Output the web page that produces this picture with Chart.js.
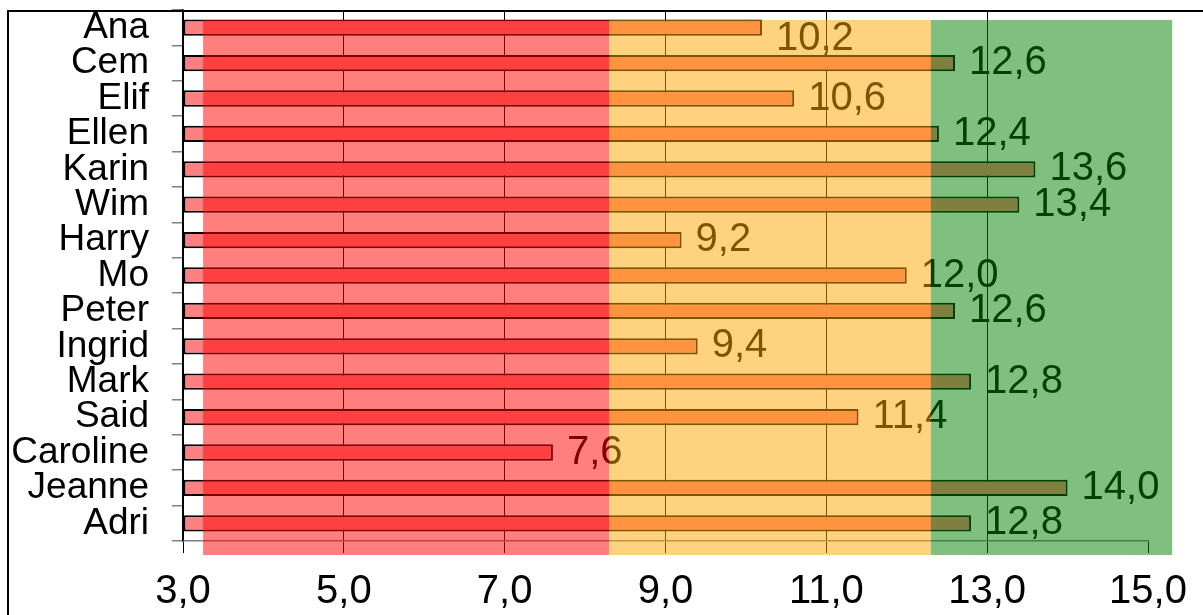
<!DOCTYPE html>
<html>
<head>
<meta charset="utf-8">
<script src="https://cdn.jsdelivr.net/npm/chart.js@4/dist/chart.umd.min.js"></script>
<style>
  html, body { margin: 0; padding: 0; background: #fff; }
  #wrap { width: 1203px; height: 615px; }
</style>
</head>
<body>
<div id="wrap"><canvas id="chart-scores"></canvas></div>
<script>
const names = ['Ana', 'Cem', 'Elif', 'Ellen', 'Karin', 'Wim', 'Harry', 'Mo', 'Peter', 'Ingrid', 'Mark', 'Said', 'Caroline', 'Jeanne', 'Adri'];
const scores = [10.2, 12.6, 10.6, 12.4, 13.6, 13.4, 9.2, 12.0, 12.6, 9.4, 12.8, 11.4, 7.6, 14.0, 12.8];

// ranges for the coloured zones (from, to)
const zoneFrom = [3.25, 8.3, 12.3];
const zoneTo = [8.3, 12.3, 15.3];

const xMin = 3;
const xMax = 15;
const xStep = 2;

const zoneColors = ['rgba(255, 0, 0, 0.5)', 'rgba(255, 165, 0, 0.5)', 'rgba(0, 128, 0, 0.5)'];
const FONT = "'Liberation Sans', Arial, sans-serif";

function comma(v) {
  return Number(v).toFixed(1).replace('.', ',');
}

// value labels next to each bar
const valueLabels = {
  id: 'valueLabels',
  afterDatasetsDraw(chart) {
    const ctx = chart.ctx;
    const meta = chart.getDatasetMeta(0);
    ctx.save();
    ctx.font = '40px ' + FONT;
    ctx.fillStyle = '#000';
    ctx.textAlign = 'left';
    ctx.textBaseline = 'middle';
    meta.data.forEach((bar, i) => {
      const y = Math.max(bar.y, chart.chartArea.top + 29);
      ctx.fillText(comma(scores[i]), bar.x + 14, y);
    });
    ctx.restore();
  }
};

// translucent zones painted over everything
const zones = {
  id: 'zones',
  afterDraw(chart) {
    const ctx = chart.ctx;
    const x = chart.scales.x;
    const area = chart.chartArea;
    ctx.save();
    for (let i = 0; i < zoneFrom.length; i++) {
      const x0 = x.getPixelForValue(zoneFrom[i]);
      const x1 = x.getPixelForValue(zoneTo[i]);
      ctx.fillStyle = zoneColors[i];
      ctx.fillRect(x0, area.top + 10, x1 - x0, area.bottom + 14 - area.top - 10);
    }
    // outer frame
    ctx.strokeStyle = '#000';
    ctx.lineWidth = 2;
    ctx.strokeRect(8, 11, 1400, 800);
    ctx.restore();
  }
};

const dataScores = {
  labels: names,
  datasets: [{
    data: scores,
    base: xMin,
    backgroundColor: '#ff8080',
    borderColor: '#000',
    borderWidth: 2,
    borderSkipped: false,
    barPercentage: 0.46,
    categoryPercentage: 1,
    clip: false
  }]
};

const configScores = {
  type: 'bar',
  data: dataScores,
  options: {
    indexAxis: 'y',
    responsive: true,
    maintainAspectRatio: false,
    animation: false,
    layout: {
      padding: { top: 10, right: 55, left: 0, bottom: 0 }
    },
    plugins: {
      legend: { display: false },
      tooltip: { enabled: false }
    },
    scales: {
      x: {
        type: 'linear',
        min: xMin,
        max: xMax,
        afterFit(scale) {
          scale.height = 74;
          scale.paddingLeft = 0;
          scale.paddingRight = 0;
        },
        ticks: {
          stepSize: xStep,
          color: '#000',
          padding: 15,
          font: { family: FONT, size: 40 },
          callback: (v) => comma(v)
        },
        grid: {
          color: (c) => (c.tick && c.tick.value === xMax ? 'rgba(0,0,0,0)' : '#000'),
          tickColor: '#000',
          lineWidth: 1,
          tickLength: 12
        },
        border: { color: '#808080', width: 1.5 }
      },
      y: {
        afterFit(scale) {
          scale.width = 183;
          scale.paddingTop = 0;
          scale.paddingBottom = 0;
        },
        ticks: {
          autoSkip: false,
          color: '#000',
          padding: 23,
          font: { family: FONT, size: 37 }
        },
        grid: {
          offset: true,
          drawOnChartArea: false,
          color: '#808080',
          lineWidth: 1.5,
          tickLength: 11
        },
        border: { color: '#000', width: 1.5 }
      }
    }
  },
  plugins: [valueLabels, zones]
};

const chartScores = new Chart(
  document.getElementById('chart-scores'),
  configScores
);
</script>
</body>
</html>
